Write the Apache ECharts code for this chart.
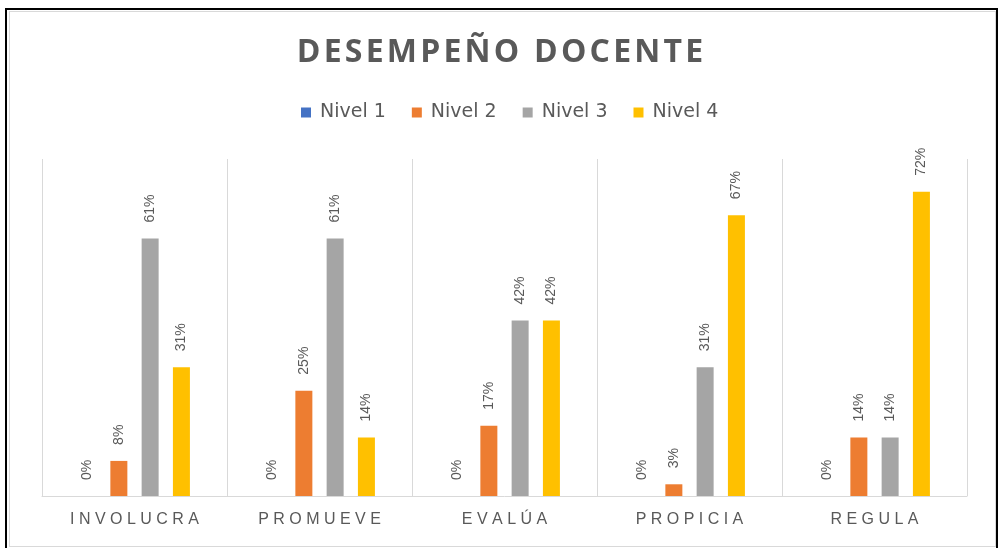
<!DOCTYPE html>
<html>
<head>
<meta charset="utf-8">
<script src="https://cdn.jsdelivr.net/npm/echarts@6/dist/echarts.min.js"></script>
<style>
  html, body { margin: 0; padding: 0; background: #fff; }
  #wrap { position: relative; width: 1000px; height: 548px; overflow: hidden; }
  #outer { position: absolute; left: 5px; top: 8px; width: 993px; height: 560px; border: 2px solid #000; box-sizing: border-box; }
  #inner { position: absolute; left: 9px; top: 11px; width: 987px; height: 536px; border: 1px solid #d9d9d9; box-sizing: border-box; }
  #chart { position: absolute; left: 0; top: 0; width: 1000px; height: 548px; }
</style>
</head>
<body>
<div id="wrap">
  <div id="outer"></div>
  <div id="inner"></div>
  <div id="chart"></div>
</div>
<script>
const titleText = 'DESEMPEÑO DOCENTE';
const categories = ['INVOLUCRA', 'PROMUEVE', 'EVALÚA', 'PROPICIA', 'REGULA'];
const seriesNames = ['Nivel 1', 'Nivel 2', 'Nivel 3', 'Nivel 4'];
const nivel1 = [0, 0, 0, 0, 0];
const nivel2 = [8.33, 25.0, 16.67, 2.78, 13.89];
const nivel3 = [61.11, 61.11, 41.67, 30.56, 13.89];
const nivel4 = [30.56, 13.89, 41.67, 66.67, 72.22];
const colors = ['#4472C4', '#ED7D31', '#A5A5A5', '#FFC000'];

const seriesData = [nivel1, nivel2, nivel3, nivel4];
const textGray = '#595959';

const chart = echarts.init(document.getElementById('chart'), null, { renderer: 'canvas' });

const series = seriesNames.map((name, i) => ({
  name: name,
  type: 'bar',
  data: seriesData[i],
  barWidth: 17,
  barGap: '84%',
  itemStyle: { color: colors[i] },
  label: {
    show: true,
    position: 'top',
    rotate: 90,
    align: 'left',
    verticalAlign: 'middle',
    distance: 16,
    color: textGray,
    fontFamily: 'Liberation Sans',
    fontSize: 14,
    formatter: p => Math.round(p.value) + '%'
  }
}));

chart.setOption({
  animation: false,
  backgroundColor: 'transparent',
  color: colors,
  title: {
    text: titleText.split('').join('\u200A'),
    left: 'center',
    top: 37,
    padding: 0,
    textStyle: {
      fontFamily: 'Open Sans',
      fontWeight: 'bold',
      fontSize: 32,
      color: textGray
    }
  },
  legend: {
    data: seriesNames,
    top: 98,
    left: 296,
    itemWidth: 10,
    itemHeight: 10,
    itemGap: 26,
    icon: 'rect',
    textStyle: {
      fontFamily: 'DejaVu Sans',
      fontSize: 19,
      color: textGray,
      padding: [0, 0, 0, 4]
    }
  },
  grid: {
    left: 42,
    right: 33,
    top: 159,
    bottom: 52,
    containLabel: false
  },
  xAxis: {
    type: 'category',
    data: categories,
    boundaryGap: true,
    axisLine: { show: true, lineStyle: { color: '#d9d9d9', width: 1 } },
    axisTick: { show: false },
    splitLine: { show: true, lineStyle: { color: '#d9d9d9', width: 1 } },
    axisLabel: {
      margin: 16,
      fontFamily: 'Liberation Sans',
      fontSize: 16,
      color: textGray,
      formatter: v => v.split('').join(' ')
    }
  },
  yAxis: {
    type: 'value',
    min: 0,
    max: 80,
    show: false,
    splitLine: { show: false }
  },
  series: series
});
</script>
</body>
</html>
